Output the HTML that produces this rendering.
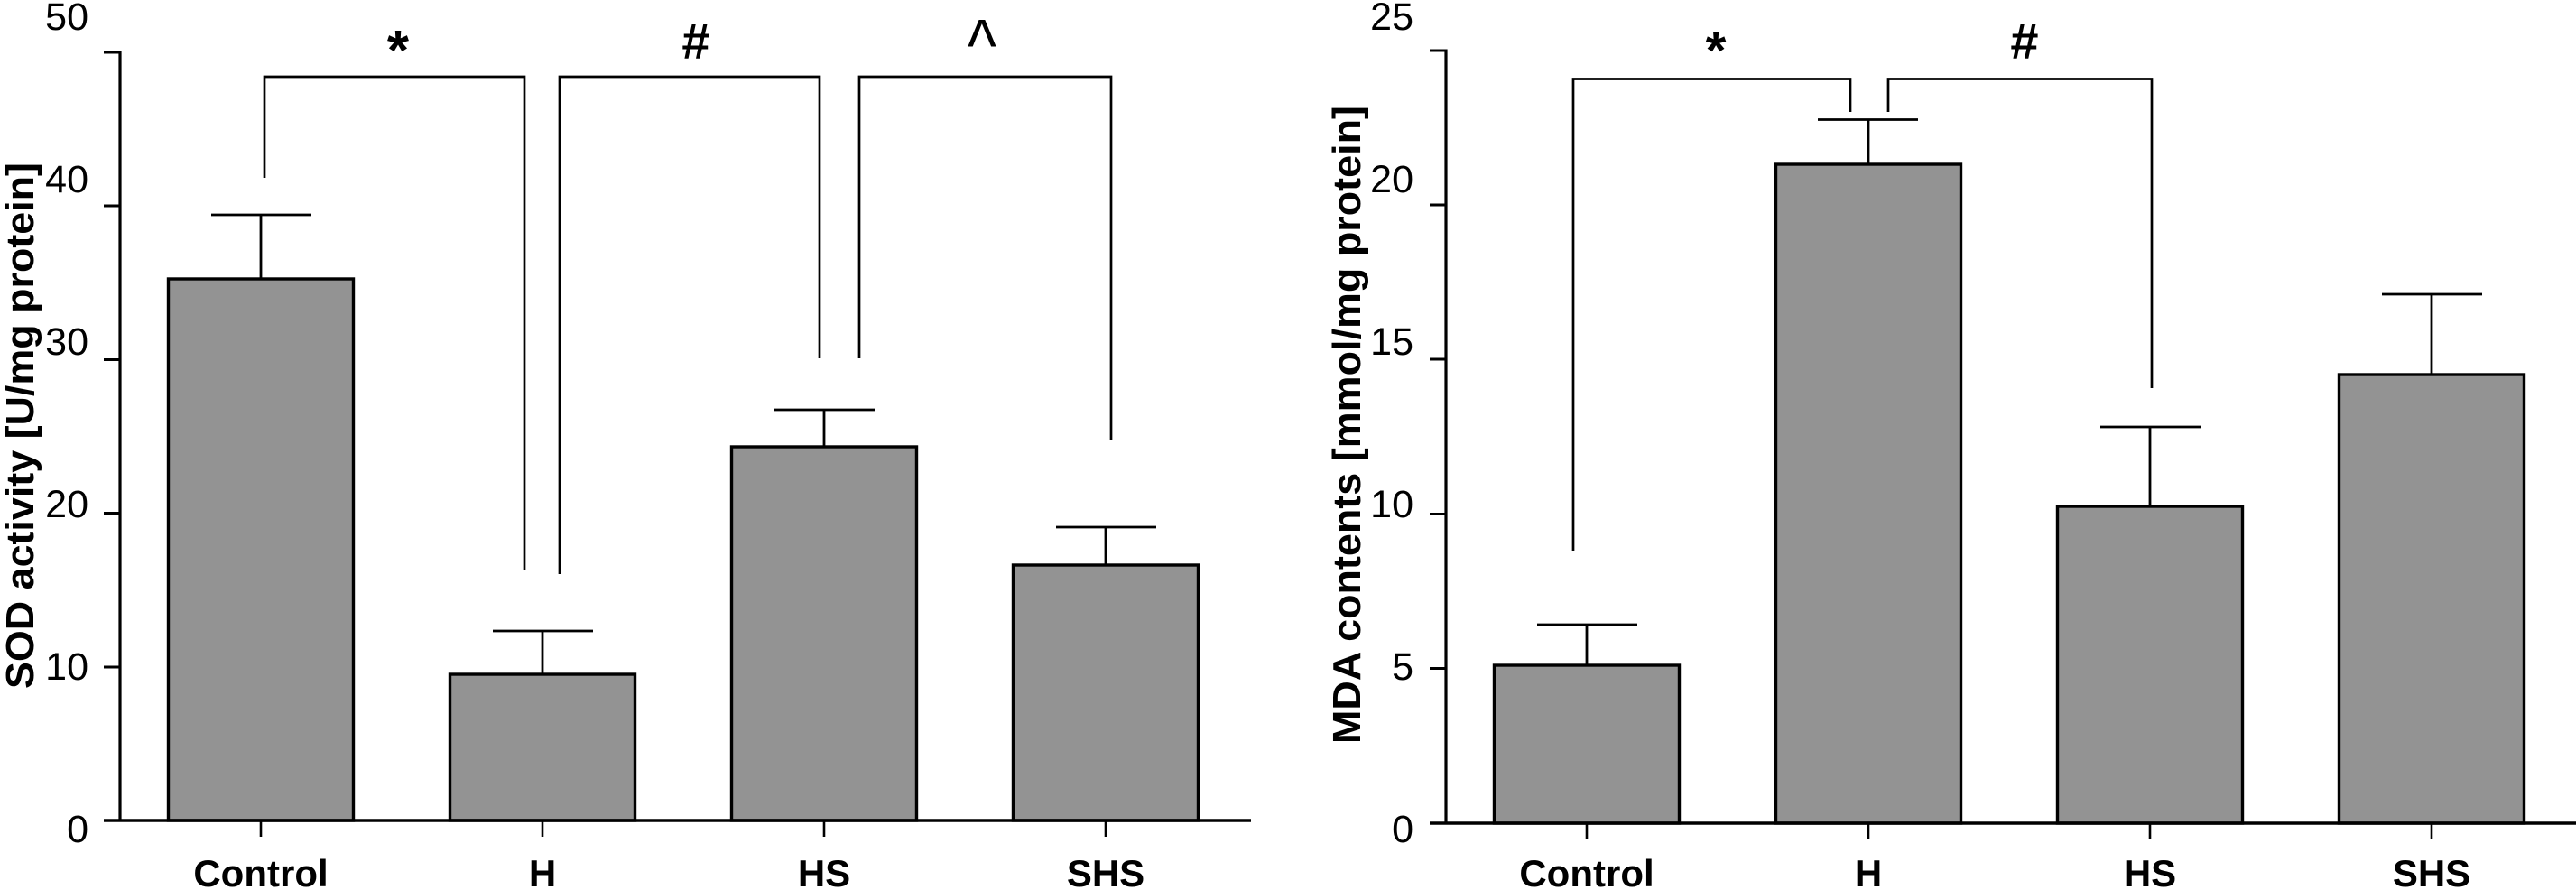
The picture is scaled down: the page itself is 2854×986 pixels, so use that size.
<!DOCTYPE html>
<html>
<head>
<meta charset="utf-8">
<style>
  html, body { margin: 0; padding: 0; background: #ffffff; }
  body { width: 2854px; height: 986px; overflow: hidden; }
  svg { display: block; }
  .tick { font-family: "Liberation Sans", sans-serif; font-size: 43px; fill: #000; }
  .xl { font-family: "Liberation Sans", sans-serif; font-size: 42px; font-weight: bold; fill: #000; }
  .yt { font-family: "Liberation Sans", sans-serif; font-size: 44px; font-weight: bold; fill: #000; }
  .sig { font-family: "Liberation Sans", sans-serif; font-weight: bold; fill: #000; }
  .thin { font-family: "Liberation Sans", sans-serif; font-weight: normal; fill: #000; }
</style>
</head>
<body>
<svg width="2854" height="986" viewBox="0 0 2854 986" xmlns="http://www.w3.org/2000/svg">
  <rect x="0" y="0" width="2854" height="986" fill="#ffffff"/>

  <!-- ================= LEFT CHART (SOD) ================= -->
  <g fill="#939393" stroke="#000" stroke-width="3.4">
    <rect x="186.5" y="309" width="205" height="600"/>
    <rect x="498.5" y="747" width="205" height="162"/>
    <rect x="810.5" y="495" width="205" height="414"/>
    <rect x="1122.5" y="626" width="205" height="283"/>
  </g>
  <g stroke="#000" stroke-width="2.8" fill="none">
    <line x1="289" y1="309" x2="289" y2="238"/>
    <line x1="234" y1="238" x2="345" y2="238"/>
    <line x1="601" y1="747" x2="601" y2="699"/>
    <line x1="546" y1="699" x2="657" y2="699"/>
    <line x1="913" y1="495" x2="913" y2="454"/>
    <line x1="858" y1="454" x2="969" y2="454"/>
    <line x1="1225" y1="626" x2="1225" y2="584"/>
    <line x1="1170" y1="584" x2="1281" y2="584"/>
  </g>
  <g stroke="#000" fill="none">
    <line x1="133" y1="56.5" x2="133" y2="910" stroke-width="3.2"/>
    <line x1="115" y1="909" x2="1386" y2="909" stroke-width="3.6"/>
    <g stroke-width="3">
      <line x1="115" y1="58" x2="133" y2="58"/>
      <line x1="115" y1="228" x2="133" y2="228"/>
      <line x1="115" y1="398.5" x2="133" y2="398.5"/>
      <line x1="115" y1="568.5" x2="133" y2="568.5"/>
      <line x1="115" y1="739" x2="133" y2="739"/>
    </g>
    <g stroke-width="2.6">
      <line x1="289" y1="909" x2="289" y2="927"/>
      <line x1="601" y1="909" x2="601" y2="927"/>
      <line x1="913" y1="909" x2="913" y2="927"/>
      <line x1="1225" y1="909" x2="1225" y2="927"/>
    </g>
  </g>
  <g stroke="#000" stroke-width="2.7" fill="none">
    <polyline points="293,197 293,85 581,85 581,632"/>
    <polyline points="620,636 620,85 908,85 908,397"/>
    <polyline points="952,397 952,85 1231,85 1231,487"/>
  </g>
  <text class="sig" x="441" y="77" font-size="62" text-anchor="middle">*</text>
  <text class="sig" x="771" y="65" font-size="56" text-anchor="middle">#</text>
  <g transform="translate(1088,78.5) scale(1,1.2)">
    <text class="thin" x="0" y="0" style="font-size:68px;font-weight:normal" text-anchor="middle">^</text>
  </g>
  <g class="tick" text-anchor="end">
    <text x="98" y="33">50</text>
    <text x="98" y="213">40</text>
    <text x="98" y="393">30</text>
    <text x="98" y="573">20</text>
    <text x="98" y="753">10</text>
    <text x="98" y="933">0</text>
  </g>
  <g class="xl" text-anchor="middle">
    <text x="289" y="982">Control</text>
    <text x="601" y="982">H</text>
    <text x="913" y="982">HS</text>
    <text x="1225" y="982">SHS</text>
  </g>
  <text class="yt" transform="translate(37,471.5) rotate(-90)" x="0" y="0" text-anchor="middle" textLength="583" lengthAdjust="spacingAndGlyphs">SOD activity [U/mg protein]</text>

  <!-- ================= RIGHT CHART (MDA) ================= -->
  <g fill="#939393" stroke="#000" stroke-width="3.4">
    <rect x="1655.5" y="737" width="205" height="175"/>
    <rect x="1967.5" y="182" width="205" height="730"/>
    <rect x="2279.5" y="561" width="205" height="351"/>
    <rect x="2591.5" y="415" width="205" height="497"/>
  </g>
  <g stroke="#000" stroke-width="2.8" fill="none">
    <line x1="1758" y1="737" x2="1758" y2="692"/>
    <line x1="1703" y1="692" x2="1814" y2="692"/>
    <line x1="2070" y1="182" x2="2070" y2="132.5"/>
    <line x1="2014" y1="132.5" x2="2125" y2="132.5"/>
    <line x1="2382" y1="561" x2="2382" y2="473"/>
    <line x1="2327" y1="473" x2="2438" y2="473"/>
    <line x1="2694" y1="415" x2="2694" y2="326"/>
    <line x1="2639" y1="326" x2="2750" y2="326"/>
  </g>
  <g stroke="#000" fill="none">
    <line x1="1602" y1="54.5" x2="1602" y2="913" stroke-width="3.2"/>
    <line x1="1584" y1="912" x2="2854" y2="912" stroke-width="3.6"/>
    <g stroke-width="3">
      <line x1="1584" y1="56" x2="1602" y2="56"/>
      <line x1="1584" y1="227" x2="1602" y2="227"/>
      <line x1="1584" y1="398" x2="1602" y2="398"/>
      <line x1="1584" y1="569.5" x2="1602" y2="569.5"/>
      <line x1="1584" y1="740.5" x2="1602" y2="740.5"/>
    </g>
    <g stroke-width="2.6">
      <line x1="1758" y1="912" x2="1758" y2="929"/>
      <line x1="2070" y1="912" x2="2070" y2="929"/>
      <line x1="2382" y1="912" x2="2382" y2="929"/>
      <line x1="2694" y1="912" x2="2694" y2="929"/>
    </g>
  </g>
  <g stroke="#000" stroke-width="2.7" fill="none">
    <polyline points="1743,610 1743,87.5 2050,87.5 2050,124"/>
    <polyline points="2092,124 2092,87.5 2384,87.5 2384,430"/>
  </g>
  <text class="sig" x="1901" y="76" font-size="58" text-anchor="middle">*</text>
  <text class="sig" x="2243" y="65" font-size="56" text-anchor="middle">#</text>
  <g class="tick" text-anchor="end">
    <text x="1566" y="33">25</text>
    <text x="1566" y="213">20</text>
    <text x="1566" y="393">15</text>
    <text x="1566" y="573">10</text>
    <text x="1566" y="753">5</text>
    <text x="1566" y="933">0</text>
  </g>
  <g class="xl" text-anchor="middle">
    <text x="1758" y="982">Control</text>
    <text x="2070" y="982">H</text>
    <text x="2382" y="982">HS</text>
    <text x="2694" y="982">SHS</text>
  </g>
  <text class="yt" transform="translate(1507,470.5) rotate(-90)" x="0" y="0" text-anchor="middle" textLength="707" lengthAdjust="spacingAndGlyphs">MDA contents [mmol/mg protein]</text>
</svg>
</body>
</html>
